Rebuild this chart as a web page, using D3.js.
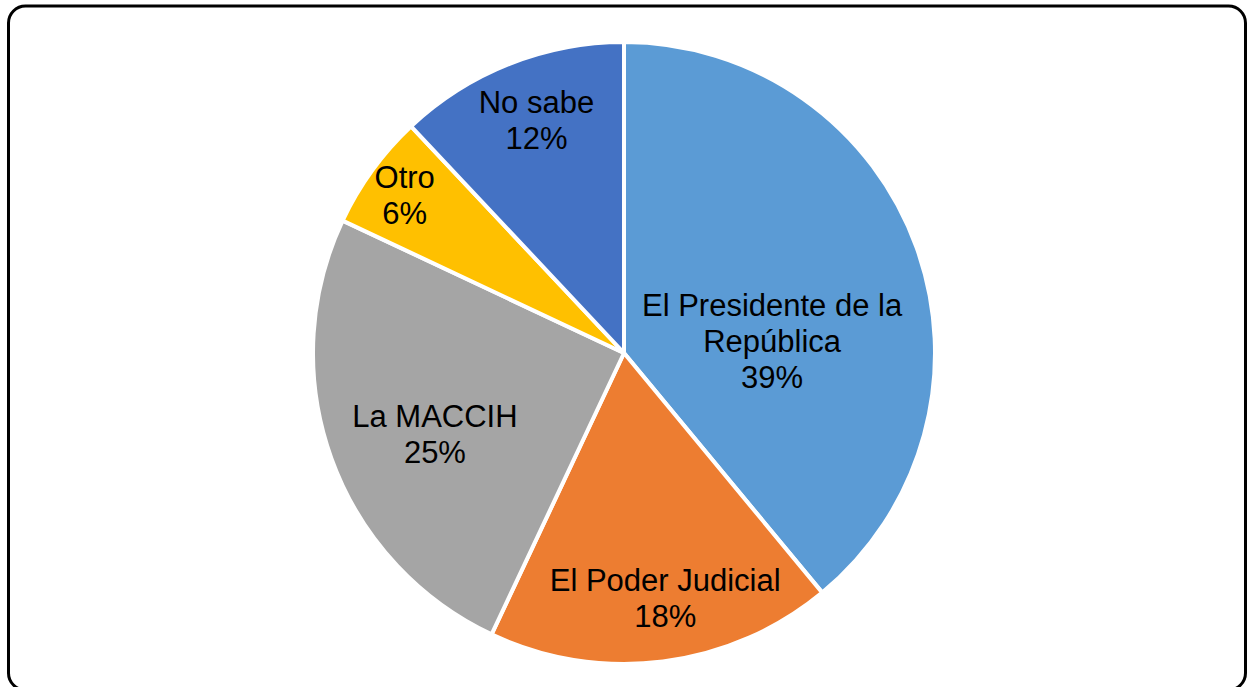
<!DOCTYPE html>
<html>
<head>
<meta charset="utf-8">
<script src="https://cdn.jsdelivr.net/npm/d3@7"></script>
<style>
  html, body { margin: 0; padding: 0; background: #fff; }
  svg { display: block; }
  .lbl { font-family: "Liberation Sans", Arial, sans-serif; font-size: 31px; fill: #000; }
</style>
</head>
<body>
<svg id="chart" width="1248" height="687"></svg>
<script>
// data
var categories = ['El Presidente de la República', 'El Poder Judicial', 'La MACCIH', 'Otro', 'No sabe'];
var labelLines = [['El Presidente de la', 'República'], ['El Poder Judicial'], ['La MACCIH'], ['Otro'], ['No sabe']];
var values = [39, 18, 25, 6, 12];
var colors = ['#5B9BD5', '#ED7D31', '#A5A5A5', '#FFC000', '#4472C4'];

// layout: nudges from the arc centroid to where the labels sit
var labelNudge = [[-86, 72], [10, -2], [45, -3], [-18, -12], [4, -2]];

var cx = 624, cy = 353, R = 311;

var svg = d3.select('#chart');

// rounded frame (its bottom edge runs just past the window)
svg.append('rect')
    .attr('x', 8.5).attr('y', 6)
    .attr('width', 1237).attr('height', 684)
    .attr('rx', 17).attr('ry', 17)
    .attr('fill', '#fff')
    .attr('stroke', '#000')
    .attr('stroke-width', 3);

var pie = d3.pie().sort(null).value(function(d) { return d; });
var arcs = pie(values);

var arc = d3.arc().innerRadius(0).outerRadius(R);
var labelArc = d3.arc().innerRadius(R * 0.8).outerRadius(R * 0.8);

var g = svg.append('g').attr('transform', 'translate(' + cx + ',' + cy + ')');

g.selectAll('path.slice').data(arcs)
    .enter().append('path')
    .attr('class', 'slice')
    .attr('d', arc)
    .attr('fill', function(d, i) { return colors[i]; })
    .attr('stroke', '#fff')
    .attr('stroke-width', 4)
    .attr('stroke-linejoin', 'round');

var total = d3.sum(values);

var labels = g.selectAll('text.lbl').data(arcs)
    .enter().append('text')
    .attr('class', 'lbl')
    .attr('text-anchor', 'middle')
    .attr('transform', function(d, i) {
        var c = labelArc.centroid(d);
        return 'translate(' + (c[0] + labelNudge[i][0]) + ',' + (c[1] + labelNudge[i][1]) + ')';
    });

labels.each(function(d, i) {
    var lines = labelLines[i].concat([Math.round(d.value / total * 100) + '%']);
    var t = d3.select(this);
    var lh = 36;
    var first = -(lines.length - 1) * lh / 2 + 11;
    lines.forEach(function(s, j) {
        t.append('tspan')
            .attr('x', 0)
            .attr('y', first + j * lh)
            .text(s);
    });
});
</script>
</body>
</html>
